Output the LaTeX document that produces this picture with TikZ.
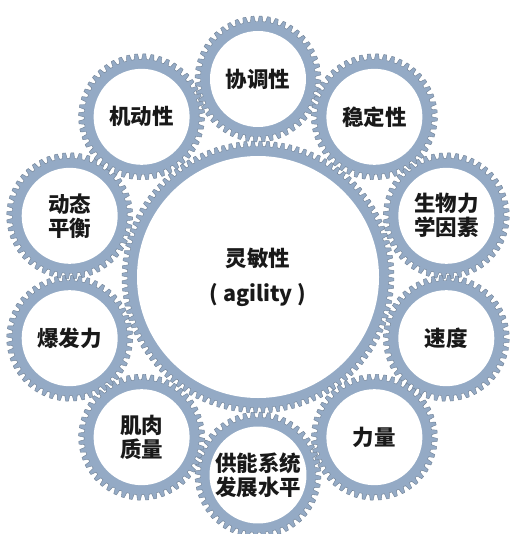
\documentclass[tikz,border=0pt]{standalone}
\usepackage{fontspec}
\newfontfamily\cjk{Noto Sans CJK SC}
\definecolor{gearblue}{RGB}{148,170,197}
\tikzset{
  gearfill/.style={fill=gearblue, draw=gearblue!75!black, line width=0.4pt, line join=round},
  gearface/.style={circle, fill=white, inner sep=0pt, align=center, text=black!90,
    font=\cjk\bfseries\fontsize{21.5}{24}\selectfont},
  pics/gear/.style n args={3}{code={
    \pgfmathsetmacro{\gp}{360/#1}
    \path[gearfill] (0:#2) \foreach \i in {1,...,#1} {
       -- ({(\i-1+0.15)*\gp}:#3) -- ({(\i-1+0.5)*\gp}:#3)
       -- ({(\i-1+0.65)*\gp}:#2) -- ({\i*\gp}:#2)} -- cycle;
  }}
}
\begin{document}
\begin{tikzpicture}[x=1pt,y=-1pt]
\useasboundingbox (0,0) rectangle (512,534);
\fill[white] (0,0) rectangle (512,534);
\coordinate (O) at (258,277);
\pic at (O) {gear={112}{130.5}{136}};
\foreach \ang in {90,54,18,-18,-54,-90,-126,-162,162,126}
  \pic at ({258+198*cos(\ang)},{277-198*sin(\ang)}) {gear={48}{57.5}{63}};
\node[gearface, minimum size=242pt, font=\cjk\bfseries\fontsize{21.5}{35}\selectfont] (agility) at (O) {灵敏性\\( agility )};
\foreach \ang/\nm/\lab in {90/g1/协调性, 54/g2/稳定性, 18/g3/{生物力\\学因素}, -18/g4/速度,
   -54/g5/力量, -90/g6/{供能系统\\发展水平}, -126/g7/{肌肉\\质量}, -162/g8/爆发力,
   162/g9/{动态\\平衡}, 126/g10/机动性}
  \node[gearface, minimum size=96pt] (\nm) at ({258+198*cos(\ang)},{277-198*sin(\ang)}) {\lab};
\end{tikzpicture}
\end{document}
